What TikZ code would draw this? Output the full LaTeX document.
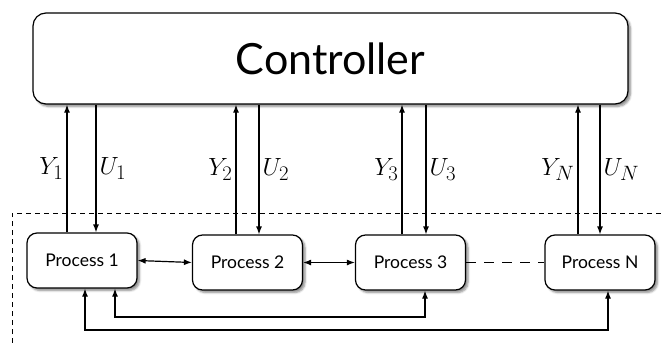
\documentclass[tikz,border=0pt]{standalone}
\usepackage{fontspec}
\setmainfont{Lato}
\usetikzlibrary{arrows.meta,shadows.blur}
\begin{document}
\begin{tikzpicture}[x=1pt,y=-1pt,
  line width=1.2pt,
  ctrlbox/.style={draw,fill=white,rounded corners=13pt,minimum width=595pt,minimum height=91pt,
    blur shadow={shadow xshift=2.5pt,shadow yshift=-2.5pt,shadow blur steps=6,shadow opacity=45},
    font=\fontsize{43}{43}\selectfont},
  procbox/.style={draw,fill=white,rounded corners=10pt,minimum width=110pt,minimum height=55pt,
    blur shadow={shadow xshift=2.5pt,shadow yshift=-2.5pt,shadow blur steps=5,shadow opacity=45},
    font=\fontsize{17.5}{17.5}\selectfont},
  sig/.style={-{Latex[length=8pt,width=6pt]}},
  bisig/.style={{Latex[length=8pt,width=6pt]}-{Latex[length=8pt,width=6pt]}},
  lbl/.style={font=\fontsize{28}{28}\selectfont,inner sep=3pt}
]
\useasboundingbox (0,0) rectangle (665,343);
% dashed process region
\draw[line width=1pt,dash pattern=on 5pt off 4pt] (12,343) -- (12,213) -- (665,213);

\node[ctrlbox] (C) at (330.5,58.5) {Controller};

\node[procbox] (P1) at (82,260.5) {Process 1};
\node[procbox] (P2) at (247.5,262.5) {Process 2};
\node[procbox] (P3) at (410.5,262.5) {Process 3};
\node[procbox] (PN) at (600,262.5) {Process N};

% measurements and inputs
\draw[sig] (P1.north -| 67,0) -- node[lbl,midway,left]{$Y_1$} (C.south -| 67,0);
\draw[sig] (C.south -| 96,0) -- node[lbl,midway,right]{$U_1$} (P1.north -| 96,0);
\draw[sig] (P2.north -| 236,0) -- node[lbl,midway,left]{$Y_2$} (C.south -| 236,0);
\draw[sig] (C.south -| 259,0) -- node[lbl,midway,right]{$U_2$} (P2.north -| 259,0);
\draw[sig] (P3.north -| 402,0) -- node[lbl,midway,left]{$Y_3$} (C.south -| 402,0);
\draw[sig] (C.south -| 426,0) -- node[lbl,midway,right]{$U_3$} (P3.north -| 426,0);
\draw[sig] (PN.north -| 578,0) -- node[lbl,midway,left]{$Y_N$} (C.south -| 578,0);
\draw[sig] (C.south -| 600,0) -- node[lbl,midway,right]{$U_N$} (PN.north -| 600,0);

% interconnections
\draw[bisig] (P1.east) -- (P2.west);
\draw[bisig] (P2.east) -- (P3.west);
\draw[dash pattern=on 10pt off 8pt] (P3.east) -- (PN.west);

\coordinate (a1) at (115,317);
\coordinate (a2) at (425,317);
\coordinate (b1) at (85,330);
\coordinate (b2) at (608,330);
\draw[bisig] (P1.south -| a1) -- (a1) -- (a2) -- (P3.south -| a2);
\draw[bisig] (P1.south -| b1) -- (b1) -- (b2) -- (PN.south -| b2);
\end{tikzpicture}
\end{document}
